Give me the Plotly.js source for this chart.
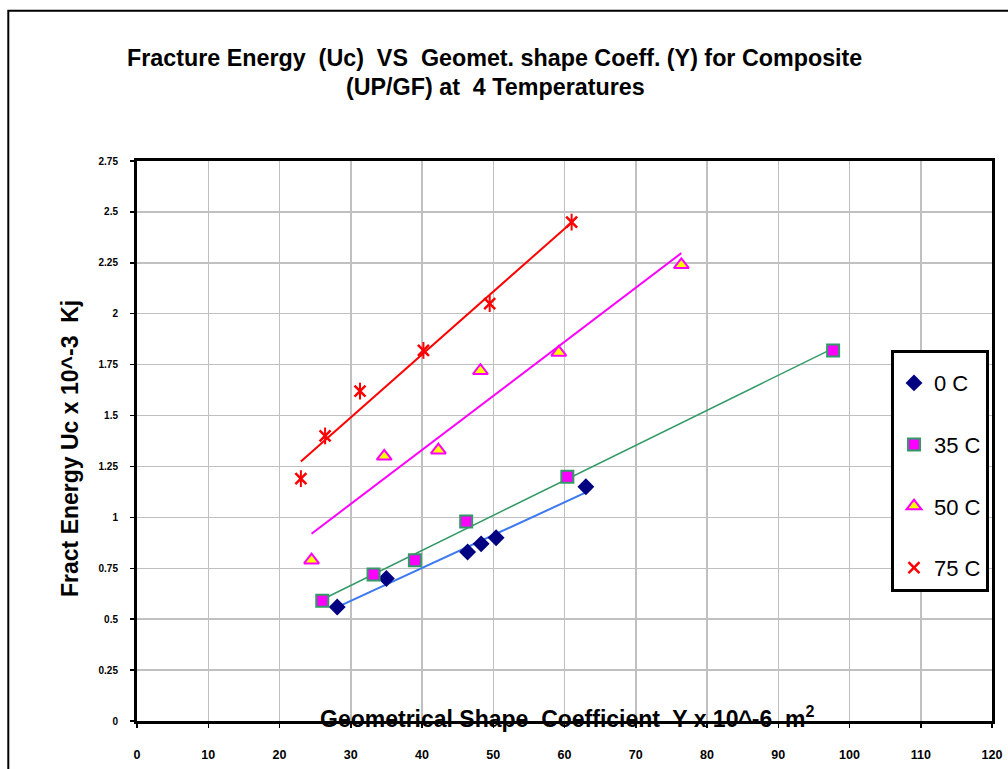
<!DOCTYPE html>
<html>
<head>
<meta charset="utf-8">
<script src="https://cdn.plot.ly/plotly-3.0.1.min.js"></script>
<style>html,body{margin:0;padding:0;background:#fff;}#chart{width:1008px;height:769px;}</style>
</head>
<body>
<div id="chart"></div>
<script>
// ---- data ----
const seriesNames = ["0 C", "35 C", "50 C", "75 C"];
const x0C  = [28.1, 35.0, 46.4, 48.3, 50.4, 63.0];
const y0C  = [0.56, 0.70, 0.83, 0.87, 0.90, 1.15];
const x35C = [26.0, 33.2, 39.0, 46.2, 60.4, 97.7];
const y35C = [0.59, 0.72, 0.79, 0.98, 1.20, 1.82];
const x50C = [24.5, 34.7, 42.3, 48.2, 59.2, 76.4];
const y50C = [0.79, 1.30, 1.33, 1.72, 1.81, 2.24];
const x75C = [23.0, 26.4, 31.3, 40.2, 49.5, 61.0];
const y75C = [1.19, 1.40, 1.62, 1.82, 2.05, 2.45];

const xTickVals = [0,10,20,30,40,50,60,70,80,90,100,110,120];
const xTickText = ["0","10","20","30","40","50","60","70","80","90","100","110","120"];
const yTickVals = [0,0.25,0.5,0.75,1,1.25,1.5,1.75,2,2.25,2.5,2.75];
const yTickText = ["0","0.25","0.5","0.75","1","1.25","1.5","1.75","2","2.25","2.5","2.75"];

const titleLine1 = "Fracture Energy  (Uc)  VS  Geomet. shape Coeff. (Y) for Composite";
const titleLine2 = "(UP/GF) at  4 Temperatures";
const xTitle = "Geometrical Shape  Coefficient  Y x 10^-6  m<sup>2</sup>";
const yTitle = "Fract Energy Uc x 10^-3  Kj";

// least-squares linear trendline over the data range
function trend(xs, ys) {
  const n = xs.length;
  const mx = xs.reduce((a,b)=>a+b,0)/n, my = ys.reduce((a,b)=>a+b,0)/n;
  let sxy = 0, sxx = 0;
  for (let i=0;i<n;i++){ sxy += (xs[i]-mx)*(ys[i]-my); sxx += (xs[i]-mx)*(xs[i]-mx); }
  const b = sxy/sxx, a = my - b*mx;
  const lo = Math.min(...xs), hi = Math.max(...xs);
  return {x:[lo,hi], y:[a+b*lo, a+b*hi]};
}

const FONT = "Liberation Sans, Arial, sans-serif";
const traces = [];
function tl(xs, ys, color, w) {
  const t = trend(xs, ys);
  traces.push({x:t.x, y:t.y, mode:"lines", type:"scatter", showlegend:false, hoverinfo:"skip",
    line:{color:color, width:w}});
}
tl(x0C, y0C, "#3c78f0", 2);
tl(x35C, y35C, "#339966", 1.5);
tl(x50C, y50C, "#ff00ff", 2);
tl(x75C, y75C, "#ff0000", 2);

traces.push({x:x0C, y:y0C, name:seriesNames[0], legendgroup:"a", mode:"markers", type:"scatter",
  marker:{symbol:"diamond", size:13, color:"#000080", line:{width:0}}});
traces.push({x:x35C, y:y35C, name:seriesNames[1], legendgroup:"b", mode:"markers", type:"scatter",
  marker:{symbol:"square", size:12, color:"#ff00ff", line:{width:2, color:"#339966"}}});
traces.push({x:x50C, y:y50C, name:seriesNames[2], legendgroup:"c", mode:"markers", type:"scatter",
  marker:{symbol:"triangle-up", size:13, color:"#ffff00", line:{width:2, color:"#ff00ff"}}});
traces.push({x:x75C, y:y75C, name:seriesNames[3], legendgroup:"d", mode:"markers", type:"scatter",
  marker:{symbol:"x-thin-open", size:11, color:"#ff0000", line:{width:2.5, color:"#ff0000"}}});
traces.push({x:x75C, y:y75C, showlegend:false, mode:"markers", type:"scatter", hoverinfo:"skip",
  marker:{symbol:"line-ns-open", size:12, color:"#ff0000", line:{width:2, color:"#ff0000"}}});

const L = 137, R = 16, T = 161, B = 48;
const W = 1008, H = 769;
const pw = W - L - R, ph = H - T - B;
const px = v => (v - L) / pw;          // pixel -> paper x
const py = v => (H - B - v) / ph;      // pixel -> paper y

const layout = {
  width: W, height: H,
  margin: {l:L, r:R, t:T, b:B, pad:0},
  paper_bgcolor: "#ffffff", plot_bgcolor: "#ffffff",
  font: {family: FONT, color: "#000"},
  showlegend: true,
  legend: {
    x: px(891), y: py(350), xanchor: "left", yanchor: "top",
    bgcolor: "#ffffff", bordercolor: "#000", borderwidth: 3,
    font: {family: FONT, size: 22, color: "#000"},
    title: {text: " ", font: {family: FONT, size: 7}},
    tracegroupgap: 30, traceorder: "grouped"
  },
  xaxis: {
    range: [0, 120], tickvals: xTickVals, ticktext: xTickText,
    showgrid: true, gridcolor: "#c0c0c0", gridwidth: 1.5,
    showline: true, mirror: true, linecolor: "#000", linewidth: 3,
    ticks: "outside", ticklen: 4, tickwidth: 1.5, tickcolor: "#000",
    ticklabelstandoff: 16,
    tickfont: {family: FONT, size: 12.5, weight: "bold", color: "#000"},
    zeroline: false, fixedrange: true
  },
  yaxis: {
    range: [0, 2.75], tickvals: yTickVals, ticktext: yTickText,
    showgrid: true, gridcolor: "#c0c0c0", gridwidth: 1.5,
    showline: true, mirror: true, linecolor: "#000", linewidth: 3,
    ticks: "outside", ticklen: 4, tickwidth: 1.5, tickcolor: "#000",
    ticklabelstandoff: 10,
    tickfont: {family: FONT, size: 10, weight: "bold", color: "#000"},
    zeroline: false, fixedrange: true
  },
  shapes: [
    {type:"rect", xref:"paper", yref:"paper", x0: px(8.3), x1: 1.2, y0: -0.3, y1: py(10.7),
     line:{color:"#000", width:2}, fillcolor:"rgba(0,0,0,0)", layer:"below"}
  ],
  annotations: [
    {text: "<b>"+titleLine1+"</b>", xref:"paper", yref:"paper", x: px(494), y: py(58),
     xanchor:"center", yanchor:"middle", showarrow:false, font:{family:FONT, size:23.3, color:"#000"}},
    {text: "<b>"+titleLine2+"</b>", xref:"paper", yref:"paper", x: px(495), y: py(87),
     xanchor:"center", yanchor:"middle", showarrow:false, font:{family:FONT, size:23.3, color:"#000"}},
    {text: "<b>"+xTitle+"</b>", xref:"paper", yref:"paper", x: px(567), y: py(717),
     xanchor:"center", yanchor:"middle", showarrow:false, font:{family:FONT, size:23, color:"#000"}},
    {text: "<b>"+yTitle+"</b>", xref:"paper", yref:"paper", x: px(70), y: py(449),
     xanchor:"center", yanchor:"middle", textangle:-90, showarrow:false, font:{family:FONT, size:23, color:"#000"}}
  ]
};

Plotly.newPlot("chart", traces, layout, {staticPlot: true, displayModeBar: false});
</script>
</body>
</html>
